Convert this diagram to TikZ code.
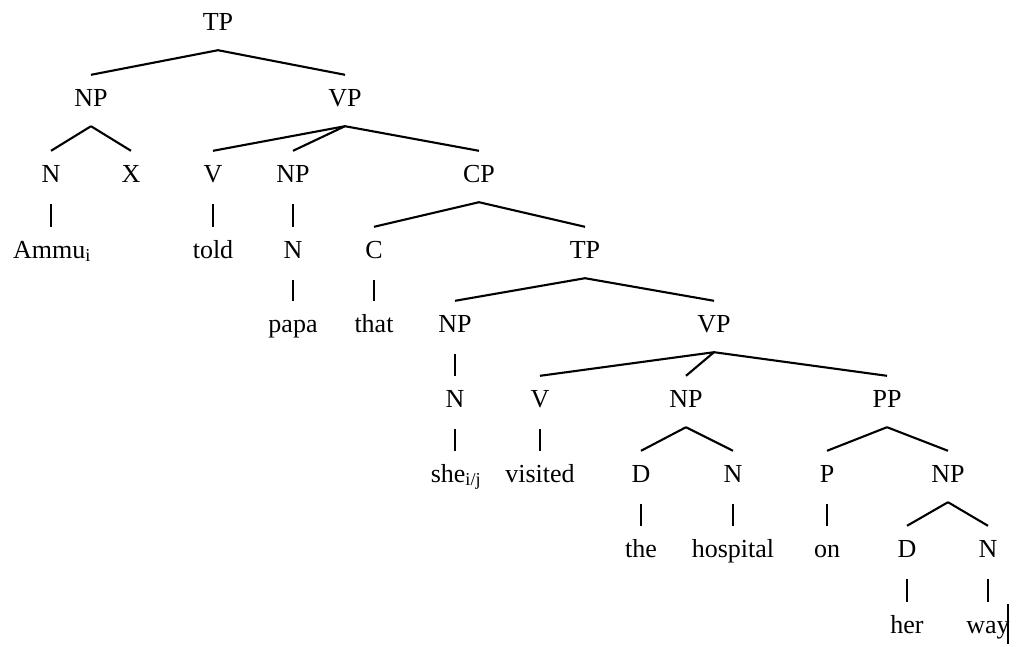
\documentclass[tikz,border=0pt]{standalone}
\usepackage{fontspec}
\setmainfont{Liberation Serif}
\begin{document}
\begin{tikzpicture}[x=1pt,y=-1pt,
  lab/.style={anchor=base,inner xsep=0pt,inner ysep=14pt,text height=17pt,text depth=6pt,font=\fontsize{26}{30}\selectfont},
  edge/.style={line width=2.1pt}]
\useasboundingbox (0,0) rectangle (1020,646);
% row 1
\node[lab] (tp1) at (218,30) {TP};
% row 2
\node[lab] (np1) at (91,106) {NP};
\node[lab] (vp1) at (345,106) {VP};
% row 3
\node[lab] (n1) at (51,182) {N};
\node[lab] (x1) at (131,182) {X};
\node[lab] (v1) at (213,182) {V};
\node[lab] (np2) at (293,182) {NP};
\node[lab] (cp) at (479,182) {CP};
% row 4
\node[lab] (ammu) at (52,258) {Ammu\textsubscript{i}};
\node[lab] (told) at (213,258) {told};
\node[lab] (n2) at (293,258) {N};
\node[lab] (c) at (374,258) {C};
\node[lab] (tp2) at (585,258) {TP};
% row 5
\node[lab] (papa) at (293,332) {papa};
\node[lab] (that) at (374,332) {that};
\node[lab] (np3) at (455,332) {NP};
\node[lab] (vp2) at (714,332) {VP};
% row 6
\node[lab] (n3) at (455,407) {N};
\node[lab] (v2) at (540,407) {V};
\node[lab] (np4) at (686,407) {NP};
\node[lab] (pp) at (887,407) {PP};
% row 7
\node[lab] (she) at (456,482) {she\textsubscript{i/j}};
\node[lab] (visited) at (540,482) {visited};
\node[lab] (d1) at (641,482) {D};
\node[lab] (n4) at (733,482) {N};
\node[lab] (p) at (827,482) {P};
\node[lab] (np5) at (948,482) {NP};
% row 8
\node[lab] (the) at (641,557) {the};
\node[lab] (hospital) at (733,557) {hospital};
\node[lab] (on) at (827,557) {on};
\node[lab] (d2) at (907,557) {D};
\node[lab] (n5) at (988,557) {N};
% row 9
\node[lab] (her) at (907,633) {her};
\node[lab] (way) at (988,633) {way};
% branching edges
\foreach \a/\b in {tp1/np1,tp1/vp1,np1/n1,np1/x1,vp1/v1,vp1/np2,vp1/cp,
  cp/c,cp/tp2,tp2/np3,tp2/vp2,vp2/v2,vp2/np4,vp2/pp,
  np4/d1,np4/n4,pp/p,pp/np5,np5/d2,np5/n5}
  \draw[edge] (\a.south) -- (\b.north);
% unary (vertical) edges
\foreach \a/\b in {n1/ammu,v1/told,np2/n2,n2/papa,c/that,
  np3/n3,n3/she,v2/visited,d1/the,n4/hospital,p/on,d2/her,n5/way}
  \draw[edge] ([yshift=-2pt]\a.south) -- (\a.south |- \b.north);
% cursor bar
\coordinate (curtop) at (1008,604);
\coordinate (curbot) at (1008,644);
\draw[line width=1.6pt] (curtop) -- (curbot);
\end{tikzpicture}
\end{document}
